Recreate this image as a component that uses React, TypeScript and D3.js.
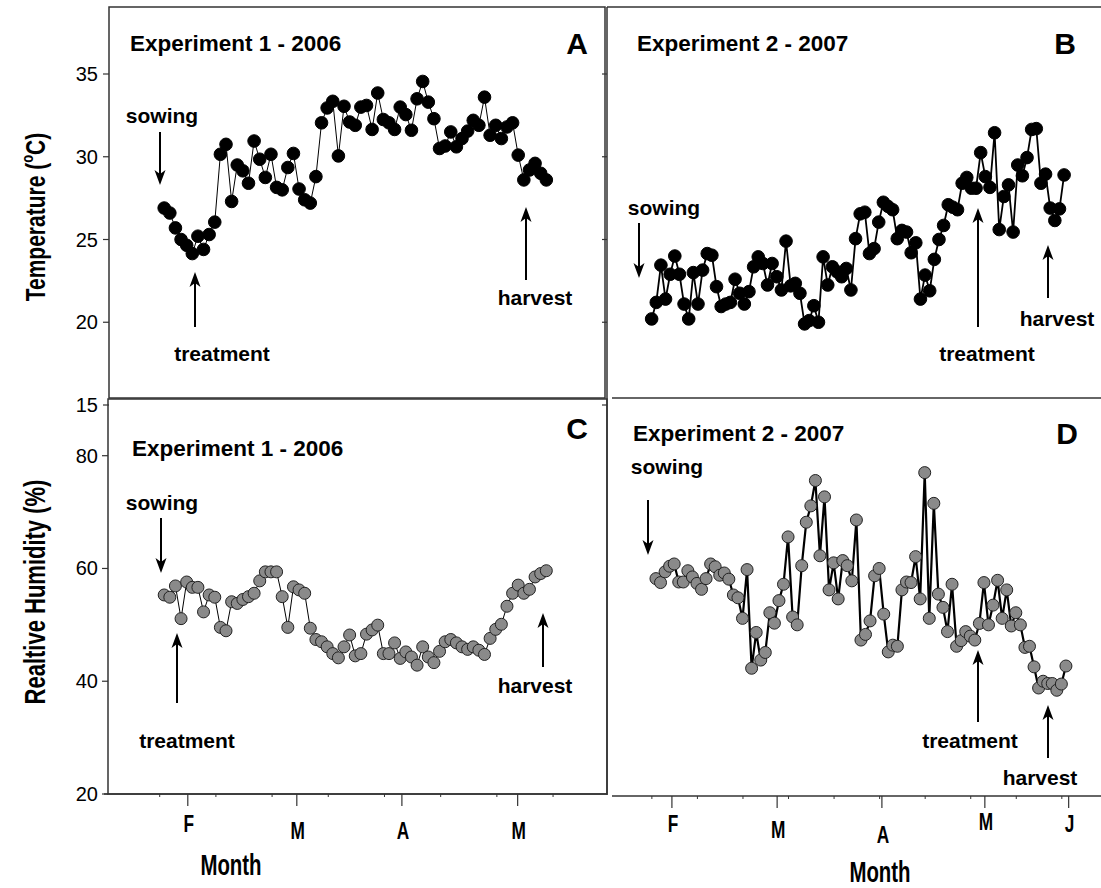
import React from "react";
import * as d3 from "d3";

// Daily-ish air temperature (°C) and relative humidity (%) over the two growing seasons.
const tempExp1 = [
  26.9, 26.6, 25.7, 25.0, 24.65, 24.15, 25.2, 24.4, 25.3, 26.05,
  30.15, 30.75, 27.3, 29.5, 29.15, 28.4, 30.95, 29.85, 28.75, 30.15,
  28.15, 28.0, 29.35, 30.2, 28.05, 27.4, 27.2, 28.8, 32.05, 32.95,
  33.35, 30.05, 33.05, 32.1, 31.9, 33.0, 33.1, 31.65, 33.85, 32.25,
  32.05, 31.65, 33.0, 32.55, 31.6, 33.5, 34.55, 33.3, 32.3, 30.5,
  30.65, 31.5, 30.6, 31.1, 31.55, 32.2, 31.9, 33.6, 31.3, 31.9,
  31.1, 31.8, 32.05, 30.1, 28.6, 29.2, 29.6, 29.0, 28.6,
];

const humExp1 = [
  55.3, 54.9, 56.9, 51.1, 57.6, 56.65, 56.65, 52.3, 55.3, 54.9,
  49.55, 48.95, 54.1, 53.8, 54.5, 55.0, 55.6, 57.8, 59.4, 59.4,
  59.4, 55.0, 49.55, 56.75, 56.2, 55.6, 49.4, 47.4, 47.0, 46.1,
  44.9, 44.15, 46.1, 48.2, 44.5, 44.9, 48.35, 49.1, 49.95, 44.9,
  44.9, 46.8, 44.05, 45.2, 44.3, 42.85, 46.1, 44.3, 43.3, 45.3,
  47.0, 47.4, 46.8, 46.1, 45.65, 46.1, 45.5, 44.75, 47.6, 49.2,
  50.1, 53.3, 55.6, 57.05, 55.6, 56.3, 58.5, 59.1, 59.6,
];

const tempExp2 = [
  20.2, 21.2, 23.45, 21.4, 22.9, 24.0, 22.9, 21.1, 20.2, 23.0,
  21.1, 23.15, 24.15, 24.05, 22.15, 20.95, 21.1, 21.2, 22.6, 21.75,
  21.1, 21.85, 23.35, 23.95, 23.55, 22.25, 23.55, 22.75, 21.95, 24.9,
  22.2, 22.35, 21.75, 19.9, 20.1, 21.0, 20.0, 23.95, 22.25, 23.35,
  23.05, 22.75, 23.25, 21.95, 25.05, 26.55, 26.65, 24.15, 24.45, 26.05,
  27.25, 27.0, 26.8, 25.05, 25.55, 25.45, 24.2, 24.8, 21.4, 22.85,
  21.9, 23.8, 25.0, 25.85, 27.1, 26.95, 26.8, 28.4, 28.75, 28.1,
  28.1, 30.25, 28.8, 28.15, 31.45, 25.6, 27.6, 28.3, 25.45, 29.5,
  28.85, 29.95, 31.65, 31.7, 28.4, 28.95, 26.9, 26.15, 26.85, 28.9,
];

const humExp2 = [
  58.2, 57.5, 59.4, 60.4, 60.8, 57.6, 57.6, 59.6, 58.5, 57.35,
  56.3, 58.2, 60.8, 60.3, 58.8, 59.2, 58.1, 55.3, 54.8, 51.15,
  59.8, 42.3, 48.65, 43.75, 45.1, 52.15, 50.3, 54.3, 57.2, 65.6,
  51.4, 50.0, 60.5, 68.2, 71.1, 75.6, 62.25, 72.7, 56.2, 61.0,
  54.6, 61.4, 60.5, 57.8, 68.6, 47.3, 48.3, 50.7, 58.7, 60.0,
  51.9, 45.2, 46.4, 46.2, 56.2, 57.6, 57.5, 62.1, 54.6, 77.0,
  51.15, 71.55, 55.45, 53.1, 48.8, 57.2, 46.2, 47.2, 48.8, 48.0,
  47.3, 50.25, 57.5, 50.0, 53.5, 57.9, 51.15, 56.2, 49.8, 52.15,
  50.0, 46.0, 46.2, 42.55, 38.8, 40.0, 39.6, 39.6, 38.4, 39.5,
  42.7,
];

// Sampling span of each record, in observation-index units of its season axis.
const spanTempExp1 = [0, 68];
const spanHumExp1 = [0, 68];
const spanTempExp2 = [-0.95, 89.6];
const spanHumExp2 = [0, 90];

const tempTicks = [15, 20, 25, 30, 35];
const humTicks = [20, 40, 60, 80];

const monthsExp1 = ["F", "M", "A", "M"];
const monthAtExp1 = [4.2, 23.6, 42.3, 62.9];
const minorAtExp1 = [-0.8, 9.2, 19.2, 29.2, 39.2, 49.2, 59.2, 69.2];

const monthsExp2 = ["F", "M", "A", "M", "J"];
const monthAtExp2 = [3.5, 26.6, 49.6, 72.2, 90.6];
const minorAtExp2 = [-0.9, 9.1, 19.1, 29.1, 39.1, 49.1, 59.1, 69.1, 79.1, 89.1];

// Label vertical nudges (px) for the month letters
const monthDyExp1 = [0, 7, 7, 7];
const monthDyExp2 = [0, 6, 11, -2, 0];

const FONT = "'Liberation Sans', Arial, Helvetica, sans-serif";
const AXIS = "#333";

const yTemp = d3.scaleLinear().domain([15, 35]).range([405, 74]);
const yHum = d3.scaleLinear().domain([20, 80]).range([794, 455.7]);
const x1 = d3.scaleLinear().domain([-10, 78.8]).range([108, 607]);
const x2 = d3.scaleLinear().domain([-10.75, 97.7]).range([607, 1101]);

type Scale = d3.ScaleLinear<number, number>;

function Series(props: {
  values: number[];
  span: number[];
  x: Scale;
  y: Scale;
  fill: string;
  stroke: string;
  lineWidth: number;
  r: number;
}) {
  const { values, span, x, y, fill, stroke, lineWidth, r } = props;
  const n = values.length;
  const idx = d3.scaleLinear().domain([0, n - 1]).range(span);
  const pts: [number, number][] = values.map((v, i) => [x(idx(i)), y(v)]);
  const path = d3.line()(pts) || "";
  return (
    <g>
      <path d={path} fill="none" stroke="#000" strokeWidth={lineWidth} strokeLinejoin="round" />
      {pts.map((p, i) => (
        <circle key={i} cx={p[0]} cy={p[1]} r={r} fill={fill} stroke={stroke} strokeWidth={1} />
      ))}
    </g>
  );
}

function Arrow({ x, from, to }: { x: number; from: number; to: number }) {
  const dir = Math.sign(to - from);
  const headLen = 15;
  const headW = 5.5;
  const notch = 4;
  const base = to - dir * headLen;
  return (
    <g>
      <line x1={x} y1={from} x2={x} y2={base + dir * notch} stroke="#000" strokeWidth={2} />
      <path
        d={`M${x},${to} L${x - headW},${base} L${x},${base + dir * notch} L${x + headW},${base} Z`}
        fill="#000"
      />
    </g>
  );
}

function Label(props: { x: number; y: number; text: string; size: number; anchor?: string }) {
  const { x, y, text, size, anchor } = props;
  return (
    <text
      x={x}
      y={y}
      fontFamily={FONT}
      fontWeight="bold"
      fontSize={size}
      textAnchor={anchor || "start"}
      dominantBaseline="central"
      fill="#000"
    >
      {text}
    </text>
  );
}

function MonthAxis(props: {
  x: Scale;
  y0: number;
  x0: number;
  x1: number;
  months: string[];
  at: number[];
  minor: number[];
  dy: number[];
  labelY: number;
}) {
  const { x, y0, months, at, minor, dy, labelY } = props;
  return (
    <g>
      <line x1={props.x0} y1={y0} x2={props.x1} y2={y0} stroke={AXIS} strokeWidth={1.5} />
      {minor.map((m, i) => (
        <line key={"n" + i} x1={x(m)} y1={y0} x2={x(m)} y2={y0 + 3} stroke={AXIS} strokeWidth={1} />
      ))}
      {at.map((m, i) => (
        <line key={"t" + i} x1={x(m)} y1={y0} x2={x(m)} y2={y0 + 12} stroke={AXIS} strokeWidth={1.2} />
      ))}
      {months.map((m, i) => (
        <text
          key={"l" + i}
          transform={`translate(${x(at[i]) + 1},${labelY + dy[i]}) scale(0.72,1)`}
          fontFamily={FONT}
          fontWeight="bold"
          fontSize={24}
          textAnchor="middle"
          dominantBaseline="central"
        >
          {m}
        </text>
      ))}
    </g>
  );
}

export default function App() {
  return (
    <svg
      width={1101}
      height={888}
      viewBox="0 0 1101 888"
      style={{ position: "absolute", left: 0, top: 0, background: "#fff" }}
    >
      <rect x={0} y={0} width={1101} height={888} fill="#fff" />

      {/* Panel frames and axes */}
      <rect x={109} y={7} width={496} height={391} fill="none" stroke={AXIS} strokeWidth={1.5} />
      <rect x={108} y={399} width={499} height={395} fill="none" stroke={AXIS} strokeWidth={1.5} />
      <line x1={607} y1={7} x2={1101} y2={7} stroke={AXIS} strokeWidth={1.5} />
      <line x1={612} y1={398} x2={1101} y2={398} stroke={AXIS} strokeWidth={1.5} />
      <line x1={607} y1={7} x2={607} y2={795} stroke={AXIS} strokeWidth={1.5} />

      {/* Temperature axis */}
      {tempTicks.map((t) => (
        <g key={"tt" + t}>
          <line x1={103} y1={yTemp(t)} x2={109} y2={yTemp(t)} stroke={AXIS} strokeWidth={1.2} />
          <line x1={602} y1={yTemp(t)} x2={607} y2={yTemp(t)} stroke={AXIS} strokeWidth={1.2} />
          <text x={98} y={yTemp(t)} fontFamily={FONT} fontSize={20} textAnchor="end" dominantBaseline="central">
            {t}
          </text>
        </g>
      ))}
      {/* Humidity axis */}
      {humTicks.map((h) => (
        <g key={"hh" + h}>
          <line x1={102} y1={yHum(h)} x2={108} y2={yHum(h)} stroke={AXIS} strokeWidth={1.2} />
          <text x={98} y={yHum(h)} fontFamily={FONT} fontSize={20} textAnchor="end" dominantBaseline="central">
            {h}
          </text>
        </g>
      ))}

      <MonthAxis x={x1} y0={794} x0={104} x1={607} months={monthsExp1} at={monthAtExp1} minor={minorAtExp1} dy={monthDyExp1} labelY={823} />
      <MonthAxis x={x2} y0={796} x0={612} x1={1101} months={monthsExp2} at={monthAtExp2} minor={minorAtExp2} dy={monthDyExp2} labelY={823} />

      {/* Axis titles */}
      <text
        transform="translate(35,217) rotate(-90) scale(1,1.3)"
        fontFamily={FONT}
        fontWeight="bold"
        fontSize={21}
        textAnchor="middle"
        dominantBaseline="central"
      >
        Temperature (<tspan dy={-7} fontSize={13}>o</tspan>
        <tspan dy={7}>C)</tspan>
      </text>
      <text
        transform="translate(35,592) rotate(-90) scale(1,1.3)"
        fontFamily={FONT}
        fontWeight="bold"
        fontSize={22}
        textAnchor="middle"
        dominantBaseline="central"
      >
        Realtive Humidity (%)
      </text>
      <text transform="translate(231,864) scale(0.68,1)" fontFamily={FONT} fontWeight="bold" fontSize={30} textAnchor="middle" dominantBaseline="central">
        Month
      </text>
      <text transform="translate(880,871) scale(0.68,1)" fontFamily={FONT} fontWeight="bold" fontSize={30} textAnchor="middle" dominantBaseline="central">
        Month
      </text>

      {/* Data */}
      <Series values={tempExp1} span={spanTempExp1} x={x1} y={yTemp} fill="#000" stroke="#000" lineWidth={1} r={6.3} />
      <Series values={tempExp2} span={spanTempExp2} x={x2} y={yTemp} fill="#000" stroke="#000" lineWidth={1.8} r={6.3} />
      <Series values={humExp1} span={spanHumExp1} x={x1} y={yHum} fill="#8a8a8a" stroke="#222" lineWidth={1} r={6} />
      <Series values={humExp2} span={spanHumExp2} x={x2} y={yHum} fill="#8a8a8a" stroke="#222" lineWidth={2.2} r={6} />

      {/* Panel A annotations */}
      <Label x={130} y={43} text="Experiment 1 - 2006" size={22.5} />
      <Label x={577} y={43} text="A" size={30} anchor="middle" />
      <Label x={162} y={115} text="sowing" size={21} anchor="middle" />
      <Arrow x={160} from={132} to={185} />
      <Label x={222} y={353} text="treatment" size={21} anchor="middle" />
      <Arrow x={195} from={327} to={272} />
      <Label x={535} y={297} text="harvest" size={21} anchor="middle" />
      <Arrow x={526} from={280} to={207} />

      {/* Panel B annotations */}
      <Label x={637} y={43} text="Experiment 2 - 2007" size={22.5} />
      <Label x={1065} y={43} text="B" size={30} anchor="middle" />
      <Label x={664} y={207} text="sowing" size={21} anchor="middle" />
      <Arrow x={639} from={223} to={278} />
      <Label x={987} y={353} text="treatment" size={21} anchor="middle" />
      <Arrow x={978} from={327} to={208} />
      <Label x={1057} y={318} text="harvest" size={21} anchor="middle" />
      <Arrow x={1048} from={298} to={245} />

      {/* Panel C annotations */}
      <Label x={132} y={448} text="Experiment 1 - 2006" size={22.5} />
      <Label x={577} y={428} text="C" size={30} anchor="middle" />
      <Label x={162} y={502} text="sowing" size={21} anchor="middle" />
      <Arrow x={161} from={518} to={573} />
      <Label x={187} y={740} text="treatment" size={21} anchor="middle" />
      <Arrow x={177} from={703} to={633} />
      <Label x={535} y={685} text="harvest" size={21} anchor="middle" />
      <Arrow x={543} from={667} to={613} />

      {/* Panel D annotations */}
      <Label x={633} y={433} text="Experiment 2 - 2007" size={22.5} />
      <Label x={1067} y={433} text="D" size={30} anchor="middle" />
      <Label x={667} y={466} text="sowing" size={21} anchor="middle" />
      <Arrow x={648} from={500} to={555} />
      <Label x={970} y={740} text="treatment" size={21} anchor="middle" />
      <Arrow x={978} from={722} to={650} />
      <Label x={1040} y={777} text="harvest" size={21} anchor="middle" />
      <Arrow x={1048} from={758} to={705} />
    </svg>
  );
}
